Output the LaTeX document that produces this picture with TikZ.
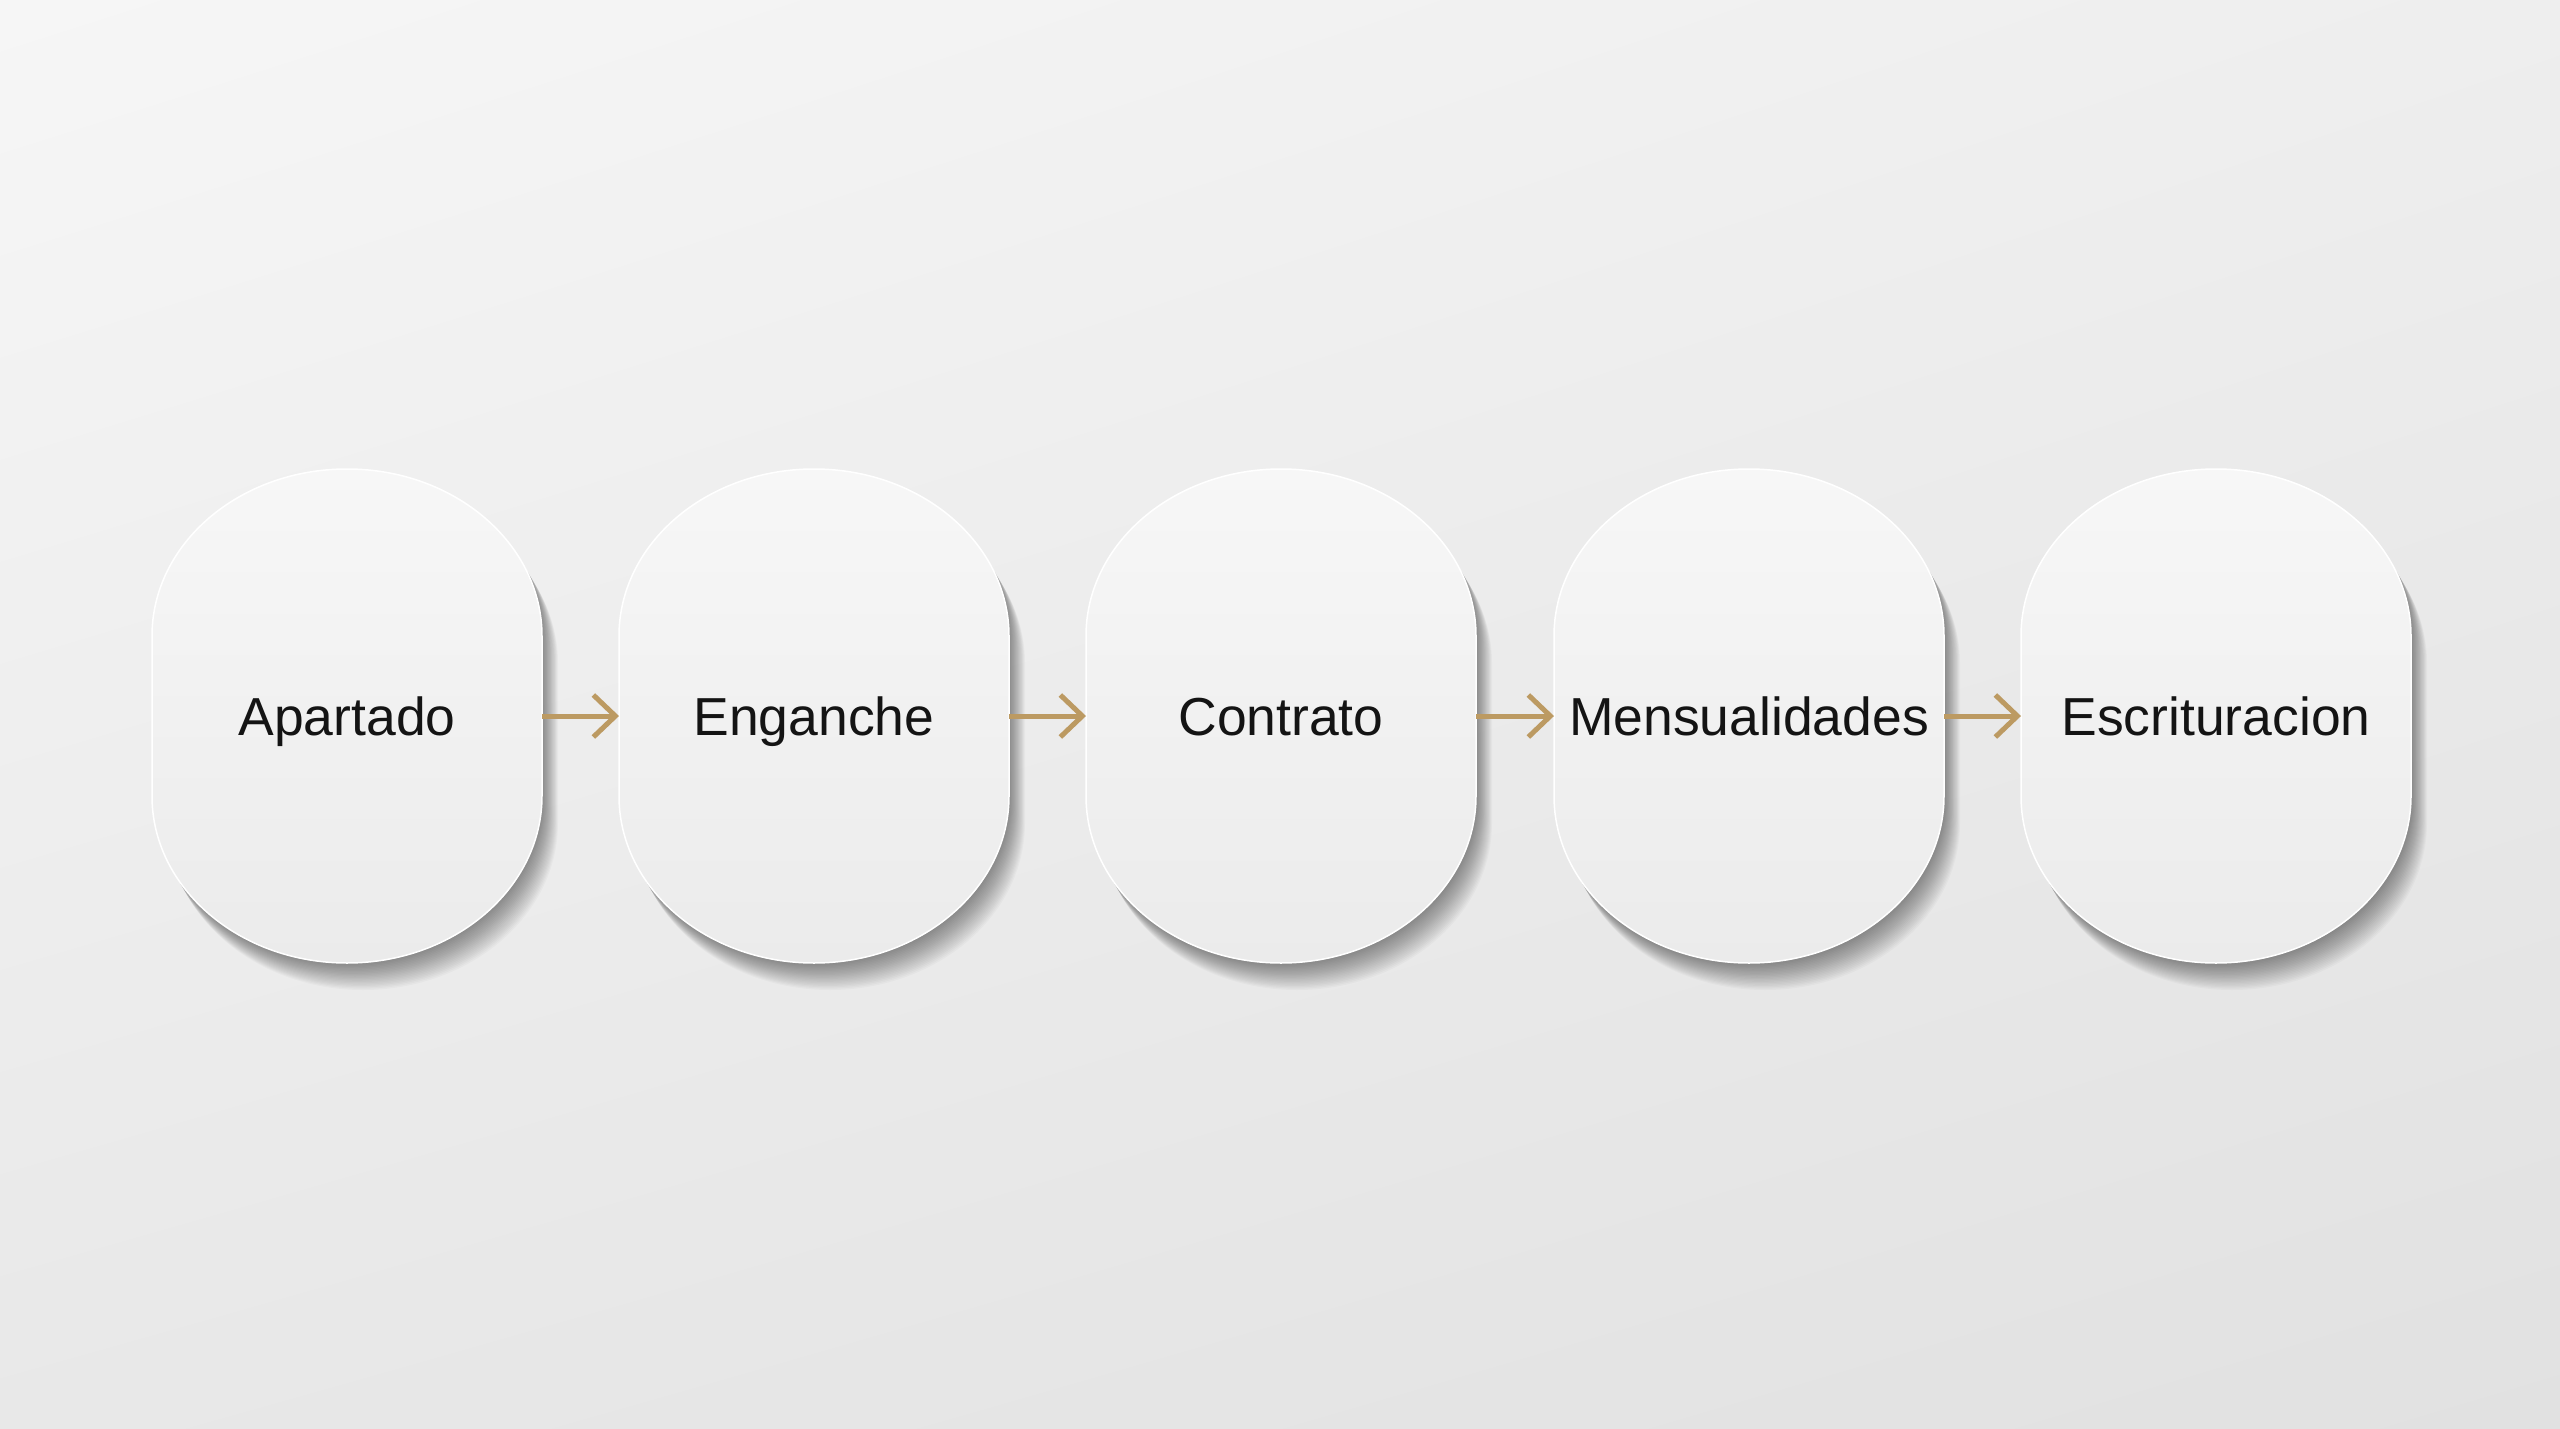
\documentclass[tikz,border=0pt]{standalone}
\usepackage{fontspec}
\setmainfont{Liberation Sans}
\usetikzlibrary{arrows.meta,shadings}
\definecolor{bgUL}{HTML}{F6F6F6}
\definecolor{bgUR}{HTML}{EEEEEE}
\definecolor{bgLL}{HTML}{E8E8E8}
\definecolor{bgLR}{HTML}{E1E1E1}
\definecolor{cardtop}{HTML}{F7F7F7}
\definecolor{cardbot}{HTML}{EBEBEB}
\definecolor{gold}{HTML}{BC9A62}
\definecolor{ink}{HTML}{141414}
% card outline centred at x=#1 (y centre 716): elliptic ends, straight sides
\newcommand\cardoutline[1]{(#1-195,796) -- (#1-195,636)
  arc[start angle=180, end angle=360, x radius=195, y radius=167]
  -- (#1+195,796)
  arc[start angle=0, end angle=180, x radius=195, y radius=167] -- cycle}
\begin{document}
\begin{tikzpicture}[x=1pt,y=-1pt,
  card/.style={rectangle, minimum width=390pt, minimum height=495pt, inner sep=0pt, outer sep=0pt,
    font=\fontsize{53.5}{60}\selectfont, text=ink, text height=39pt, text depth=0pt},
  cardface/.style={top color=cardtop, bottom color=cardbot},
  cardrim/.style={draw=white, line width=1.5pt},
  flow/.style={draw=gold, line width=5pt, -{Straight Barb[length=22pt,width=42pt]}},
  shadowlayer/.style={fill=black, opacity=0.022}]
\useasboundingbox (0,0) rectangle (2560,1429);
\shade[upper left=bgUL, upper right=bgUR, lower left=bgLL, lower right=bgLR] (0,0) rectangle (2560,1429);
% cards with soft bottom-right shadows
\foreach \cx in {347,814,1281,1749,2216} {
  \foreach \i in {1,...,20} {
    \begin{scope}[shift={(0.8*\i,1.35*\i)}]
      \fill[shadowlayer] \cardoutline{\cx};
    \end{scope}
  }
  \shade[cardface] \cardoutline{\cx};
  \draw[cardrim] \cardoutline{\cx};
}
\node[card] (c1) at (347,716) {Apartado};
\node[card] (c2) at (814,716) {Enganche};
\node[card] (c3) at (1281,716) {Contrato};
\node[card] (c4) at (1749,716) {Mensualidades};
\node[card] (c5) at (2216,716) {Escrituracion};
\draw[flow] (c1.east) -- (c2.west);
\draw[flow] (c2.east) -- (c3.west);
\draw[flow] (c3.east) -- (c4.west);
\draw[flow] (c4.east) -- (c5.west);
\end{tikzpicture}
\end{document}
